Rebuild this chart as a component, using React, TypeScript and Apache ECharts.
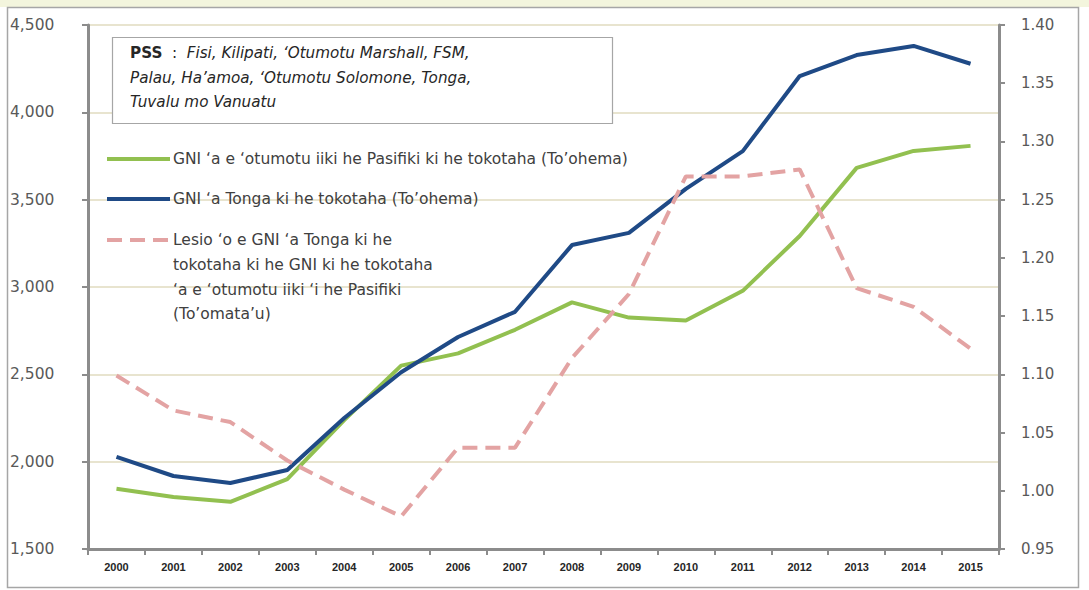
import React, { useEffect, useRef } from "react";
import * as echarts from "echarts";

const years = ["2000","2001","2002","2003","2004","2005","2006","2007","2008","2009","2010","2011","2012","2013","2014","2015"];
const pssGni = [1845, 1798, 1770, 1900, 2238, 2550, 2620, 2755, 2912, 2825, 2808, 2978, 3292, 3682, 3779, 3808];
const tongaGni = [2028, 1918, 1878, 1952, 2250, 2512, 2714, 2858, 3240, 3310, 3562, 3778, 4208, 4328, 4380, 4278];
const ratio = [1.099, 1.069, 1.059, 1.026, 1.001, 0.978, 1.037, 1.037, 1.114, 1.169, 1.270, 1.270, 1.276, 1.174, 1.158, 1.122];
const leftTicks = { min: 1500, max: 4500, interval: 500 };
const rightTicks = { min: 0.95, max: 1.4, interval: 0.05 };

const nameGreen = "GNI ‘a e ‘otumotu iiki he Pasifiki ki he tokotaha (To’ohema)";
const nameBlue = "GNI ‘a Tonga ki he tokotaha (To’ohema)";
const nameRatio = "Lesio ‘o e GNI ‘a Tonga ki he\ntokotaha ki he GNI ki he tokotaha\n‘a e ‘otumotu iiki ‘i he Pasifiki\n(To’omata’u)";

const GREEN = "#92c050";
const BLUE = "#1f4a86";
const PINK = "#e3a3a3";
const FONT = "'DejaVu Sans', sans-serif";
const LEG = 15.5;
const PSSF = 15.2;

export default function App() {
  const ref = useRef<HTMLDivElement>(null);
  useEffect(() => {
    document.body.style.margin = "0";
    const chart = echarts.init(ref.current!, null, { renderer: "svg" });
    chart.setOption({
      animation: false,
      backgroundColor: "#ffffff",
      grid: { left: 88, right: 90, top: 25, bottom: 41, containLabel: false },
      xAxis: {
        type: "category",
        data: years,
        boundaryGap: true,
        axisLine: { lineStyle: { color: "#8c8c8c", width: 3 } },
        axisTick: { show: true, length: 6, lineStyle: { color: "#8c8c8c", width: 2 } },
        axisLabel: { color: "#262626", fontSize: 11, fontWeight: "bold", fontFamily: "'Liberation Sans Narrow', 'Liberation Sans', sans-serif", margin: 12 },
      },
      yAxis: [
        {
          type: "value",
          min: leftTicks.min,
          max: leftTicks.max,
          interval: leftTicks.interval,
          axisLine: { show: true, lineStyle: { color: "#8c8c8c", width: 3 } },
          axisTick: { show: true, length: 6, lineStyle: { color: "#8c8c8c", width: 2 } },
          axisLabel: {
            color: "#595959",
            fontSize: 15.5,
            fontFamily: FONT,
            align: "left",
            margin: 78,
            formatter: (v: number) => v.toLocaleString("en-US"),
          },
          splitLine: { show: true, lineStyle: { color: "#e8e4cf", width: 2 } },
        },
        {
          type: "value",
          min: rightTicks.min,
          max: rightTicks.max,
          interval: rightTicks.interval,
          position: "right",
          axisLine: { show: true, lineStyle: { color: "#8c8c8c", width: 3 } },
          axisTick: { show: true, length: 6, lineStyle: { color: "#8c8c8c", width: 2 } },
          axisLabel: {
            color: "#595959",
            fontSize: 15,
            fontFamily: FONT,
            margin: 22,
            formatter: (v: number) => v.toFixed(2),
          },
          splitLine: { show: false },
        },
      ],
      series: [
        {
          name: nameGreen,
          type: "line",
          data: pssGni,
          yAxisIndex: 0,
          symbol: "none",
          lineStyle: { color: GREEN, width: 4 },
          itemStyle: { color: GREEN },
        },
        {
          name: nameBlue,
          type: "line",
          data: tongaGni,
          yAxisIndex: 0,
          symbol: "none",
          lineStyle: { color: BLUE, width: 4 },
          itemStyle: { color: BLUE },
        },
        {
          name: nameRatio,
          type: "line",
          data: ratio,
          yAxisIndex: 1,
          symbol: "none",
          lineStyle: { color: PINK, width: 4, type: [15, 8] },
          itemStyle: { color: PINK },
        },
      ],
      graphic: [
        { type: "rect", z: -10, shape: { x: 0, y: 0, width: 1089, height: 7 }, style: { fill: "#f3f5dd" } },
        { type: "rect", z: 100, shape: { x: 7.5, y: 7.5, width: 1071, height: 580 }, style: { fill: "none", stroke: "#a6a6a6", lineWidth: 1.5 } },
        { type: "rect", z: 100, shape: { x: 112.5, y: 37.5, width: 500, height: 86 }, style: { fill: "#ffffff", stroke: "#a6a6a6", lineWidth: 1.2 } },
        {
          type: "text", z: 101, x: 130, y: 41,
          style: {
            text: "{b|PSS}{n|  :  }{i|Fisi, Kilipati, ‘Otumotu Marshall, FSM,}\n{i|Palau, Ha’amoa, ‘Otumotu Solomone, Tonga,}\n{i|Tuvalu mo Vanuatu}",
            fontFamily: FONT, fontSize: PSSF, fill: "#262626", lineHeight: 24.5,
            rich: {
              b: { fontWeight: "bold", fontSize: PSSF, fontFamily: FONT, fill: "#262626", lineHeight: 24.5 },
              n: { fontSize: PSSF, fontFamily: FONT, fill: "#262626", lineHeight: 24.5 },
              i: { fontStyle: "italic", fontSize: PSSF, fontFamily: FONT, fill: "#262626", lineHeight: 24.5 },
            },
          },
        },
        { type: "line", z: 101, shape: { x1: 107, y1: 159, x2: 170, y2: 159 }, style: { stroke: GREEN, lineWidth: 4 } },
        { type: "text", z: 101, x: 173, y: 159, style: { text: nameGreen, fontFamily: FONT, fontSize: LEG, fill: "#404040", verticalAlign: "middle" } },
        { type: "line", z: 101, shape: { x1: 107, y1: 199, x2: 170, y2: 199 }, style: { stroke: BLUE, lineWidth: 4 } },
        { type: "text", z: 101, x: 173, y: 199, style: { text: nameBlue, fontFamily: FONT, fontSize: LEG, fill: "#404040", verticalAlign: "middle" } },
        { type: "line", z: 101, shape: { x1: 107, y1: 240, x2: 170, y2: 240 }, style: { stroke: PINK, lineWidth: 4, lineDash: [15, 8] } },
        { type: "text", z: 101, x: 173, y: 228, style: { text: nameRatio, fontFamily: FONT, fontSize: LEG, fill: "#404040", lineHeight: 24.6, verticalAlign: "top" } },
      ],
    });
    return () => chart.dispose();
  }, []);
  return <div ref={ref} style={{ position: "absolute", left: 0, top: 0, width: 1089, height: 590 }} />;
}
